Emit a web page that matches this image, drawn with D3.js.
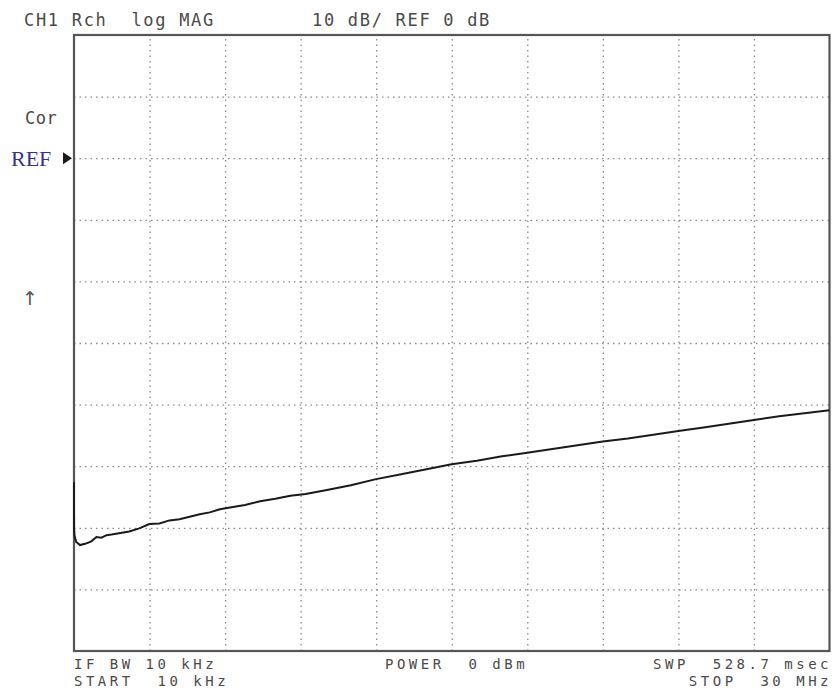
<!DOCTYPE html>
<html>
<head>
<meta charset="utf-8">
<script src="https://cdn.jsdelivr.net/npm/d3@7"></script>
<style>
  body { margin: 0; background: #fff; }
  .mono { font-family: "DejaVu Sans Mono", monospace; font-size: 17px; letter-spacing: 1.7px; fill: #4a4a4a; white-space: pre; }
  .foot { font-size: 14px; letter-spacing: 3.5px; }
</style>
</head>
<body>
<div class="svg-content"></div>
<script>
// trace readings (frequency in MHz, magnitude in dB)
const freqMHz = [0.01, 0.012, 0.03, 0.1, 0.25, 0.45, 0.7, 0.9, 1.1, 1.3, 1.5, 1.8, 2.2, 2.6, 3.0, 3.4,
  3.8, 4.2, 4.6, 5.0, 5.4, 5.8, 6.2, 6.8, 7.4, 8.0, 8.6, 9.2, 10.0, 11.0, 12.0, 13.0, 14.0, 15.0,
  16.0, 17.0, 18.0, 19.0, 20.0, 21.0, 22.0, 23.0, 24.0, 25.0, 26.0, 27.0, 28.0, 29.0, 30.0];
const magDb = [-52.6, -60.0, -61.3, -62.3, -62.8, -62.6, -62.2, -61.5, -61.6, -61.2, -61.1, -60.9, -60.6, -60.1, -59.4, -59.3,
  -58.8, -58.6, -58.2, -57.8, -57.5, -57.0, -56.7, -56.3, -55.7, -55.3, -54.8, -54.5, -53.9, -53.1, -52.1, -51.3, -50.5, -49.7,
  -49.1, -48.4, -47.8, -47.2, -46.6, -46.0, -45.5, -44.9, -44.3, -43.7, -43.1, -42.5, -41.9, -41.4, -40.9];

const startMHz = 0.01, stopMHz = 30;
const refDb = 0, dbPerDiv = 10, refDiv = 2;   // REF sits 2 divisions below top
const divisions = d3.range(1, 10);

const headerLeft = "CH1 Rch  log MAG";
const headerRight = "10 dB/ REF 0 dB";
const footLeft = ["IF BW 10 kHz", "START  10 kHz"];
const footMid = "POWER  0 dBm";
const footRight = ["SWP  528.7 msec", "STOP  30 MHz"];

const svgWidth = 833;
const svgHeight = 692;
const plotLeft = 74, plotRight = 829.5, plotTop = 35, plotBottom = 651;

let svg = d3.select(".svg-content")
            .append("svg")
            .attr("width", svgWidth)
            .attr("height", svgHeight);

const xScale = d3.scaleLinear()
                 .domain([startMHz, stopMHz])
                 .range([plotLeft, plotRight]);

const yScale = d3.scaleLinear()
                 .domain([refDb + refDiv * dbPerDiv, refDb - (10 - refDiv) * dbPerDiv])
                 .range([plotTop, plotBottom]);

const xGrid = divisions.map(i => startMHz + i * (stopMHz - startMHz) / 10);
const yGrid = divisions.map(i => yScale.domain()[0] - i * dbPerDiv);

// dotted grid via axes
svg.append("g")
   .attr("class", "grid")
   .attr("transform", "translate(0," + plotBottom + ")")
   .call(d3.axisBottom(xScale).tickValues(xGrid).tickSize(-(plotBottom - plotTop)).tickFormat(""));

svg.append("g")
   .attr("class", "grid")
   .attr("transform", "translate(" + plotLeft + ",0)")
   .call(d3.axisLeft(yScale).tickValues(yGrid).tickSize(-(plotRight - plotLeft)).tickFormat(""));

svg.selectAll(".grid .domain").remove();
svg.selectAll(".grid line")
   .attr("stroke", "#8a8a8a")
   .attr("stroke-width", 1.3)
   .attr("stroke-dasharray", "1.5,4");

// frame
svg.append("rect")
   .attr("x", plotLeft)
   .attr("y", plotTop)
   .attr("width", plotRight - plotLeft)
   .attr("height", plotBottom - plotTop)
   .attr("fill", "none")
   .attr("stroke", "#555")
   .attr("stroke-width", 2.2);

// trace
const line = d3.line()
               .x(d => xScale(d[0]))
               .y(d => yScale(d[1]));

svg.append("path")
   .datum(freqMHz.map((f, i) => [f, magDb[i]]))
   .attr("d", line)
   .attr("fill", "none")
   .attr("stroke", "#1a1a1a")
   .attr("stroke-width", 2);

// header
svg.append("text").attr("class", "mono").attr("x", 24).attr("y", 26).text(headerLeft);
svg.append("text").attr("class", "mono").attr("x", 312).attr("y", 26).text(headerRight);

// left annotations
svg.append("text").attr("class", "mono").attr("x", 25).attr("y", 124).style("letter-spacing", "0.5px").text("Cor");

const refY = yScale(refDb);
svg.append("text")
   .attr("x", 11)
   .attr("y", refY + 7.5)
   .attr("font-family", "Liberation Serif, serif")
   .attr("font-size", 22)
   .attr("fill", "#33338f")
   .text("REF");

svg.append("path")
   .attr("d", "M63," + (refY - 6) + "L72," + refY + "L63," + (refY + 6) + "Z")
   .attr("fill", "#1a1a1a");

svg.append("text").attr("x", 30).attr("y", 305).attr("text-anchor", "middle")
   .attr("font-family", "DejaVu Sans, sans-serif").attr("font-size", 19).attr("fill", "#555").text("\u2191");

// footer, two lines per column as tspans
function footer(x, lines, anchor) {
  const t = svg.append("text").attr("class", "mono foot").attr("text-anchor", anchor);
  lines.forEach((s, i) => {
    t.append("tspan").attr("x", x).attr("y", 669 + i * 17).text(s);
  });
}
footer(74, footLeft, "start");
footer(385, [footMid], "start");
footer(832, footRight, "end");
</script>
</body>
</html>
